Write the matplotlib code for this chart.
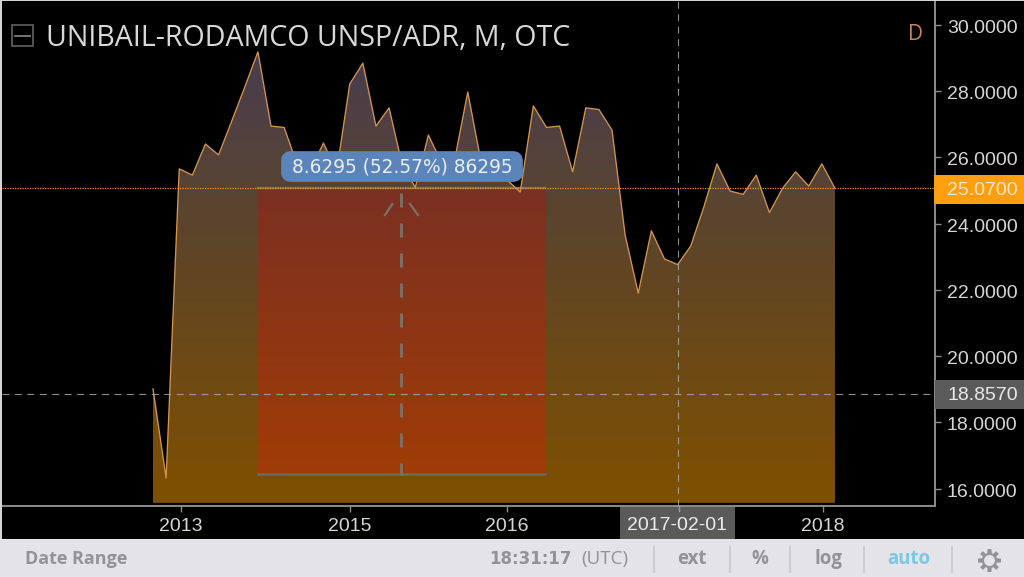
import numpy as np
import matplotlib
matplotlib.use("Agg")
import matplotlib.pyplot as plt
from matplotlib.colors import LinearSegmentedColormap
from matplotlib.patches import Polygon, Rectangle, FancyBboxPatch
from matplotlib.transforms import ScaledTranslation

prices = [19.01, 16.32, 25.65, 25.46, 26.40, 26.07, 27.09, 28.12, 29.18, 26.94,
          26.90, 25.77, 25.62, 26.43, 25.56, 28.21, 28.84, 26.94, 27.49, 25.77,
          25.09, 26.67, 25.83, 25.92, 27.97, 25.89, 25.56, 25.31, 24.95, 27.55,
          26.90, 26.94, 25.56, 27.49, 27.44, 26.82, 23.65, 21.90, 23.78, 22.93,
          22.76, 23.32, 24.50, 25.80, 24.98, 24.88, 25.46, 24.33, 25.06, 25.56,
          25.13, 25.80, 25.06]
x_tick_pos = [2.13, 15.02, 27.0, 51.1]
x_tick_labels = ["2013", "2015", "2016", "2018"]
y_ticks = [16, 18, 20, 22, 24, 26, 28, 30]
last_price = 25.07
cross_price = 18.857
cross_index = 40.05
cross_label = "2017-02-01"
measure_start, measure_end = 7.97, 29.9
measure_low = 16.44
measure_label = "8.6295 (52.57%) 86295"
title = "UNIBAIL-RODAMCO UNSP/ADR, M, OTC"

W, H = 1024, 577
fig = plt.figure(figsize=(W / 100, H / 100), dpi=100, facecolor="black")
L, R, T, B = 2, 934.5, 1, 505.5
ax = fig.add_axes([L / W, 1 - B / H, (R - L) / W, (B - T) / H], facecolor="black")

x = np.arange(len(prices))
px = 13.115
xlim = ((L - 153) / px, (R - 153) / px)
ylim = (15.49, 30.715)
base = 15.57


def gradient(stops, extent, clip, z):
    cmap = LinearSegmentedColormap.from_list("g", stops)
    img = np.linspace(0, 1, 256)[:, None]
    im = ax.imshow(img, cmap=cmap, extent=extent, aspect="auto", origin="upper",
                   interpolation="bilinear", zorder=z)
    im.set_clip_path(clip)
    return im


poly = Polygon(np.column_stack([np.r_[x[0], x, x[-1]], np.r_[base, prices, base]]),
               closed=True, fc="none", ec="none", transform=ax.transData)
ax.add_patch(poly)
gradient([(0, "#483c50"), (.306, "#584433"), (.505, "#624622"), (1, "#7f5000")],
         [x[0], x[-1], base, max(prices)], poly, 1)

rect = Rectangle((measure_start, measure_low), measure_end - measure_start,
                 last_price - measure_low, fc="none", ec="none", transform=ax.transData)
ax.add_patch(rect)
gradient([(0, "#7b3022"), (1, "#a03c06")],
         [measure_start, measure_end, measure_low, last_price], rect, 2)
ax.plot([measure_start, measure_end], [last_price] * 2, color="#7d6f66", lw=1.6, zorder=3)
ax.plot([measure_start, measure_end], [measure_low] * 2, color="#6e6a62", lw=1.8, zorder=3)

ax.plot(x, prices, color="#d2954e", lw=0.95, zorder=4)

ax.axhline(last_price, color="#e8963a", lw=0.9, ls=(0, (1, 1)), zorder=5)
ax.axhline(cross_price, color="#a8a8a8", lw=0.8, ls=(0, (6.2, 5)), alpha=.85, zorder=5)
ax.axvline(cross_index, color="#a8a8a8", lw=0.8, ls=(0, (6.2, 5)), alpha=.85, zorder=5)

ax.set_xlim(*xlim)
ax.set_ylim(*ylim)
ax.set_xticks(x_tick_pos, x_tick_labels)
ax.set_yticks(y_ticks, [f"{v:.4f}" for v in y_ticks])
ax.yaxis.tick_right()
for s in ("left", "top"):
    ax.spines[s].set_visible(False)
for s in ("right", "bottom"):
    ax.spines[s].set_color("#8c8c8c")
    ax.spines[s].set_linewidth(1.4)
ax.tick_params(axis="both", length=4, width=1, color="#8c8c8c", labelcolor="#d6d6d6",
               labelsize=14, pad=5)
ax.tick_params(axis="x", pad=4.8)
for lab in ax.get_xticklabels() + ax.get_yticklabels():
    lab.set_fontfamily("Liberation Sans")
shift = ScaledTranslation(0, -1.5 / 100, fig.dpi_scale_trans)
for lab in ax.get_yticklabels():
    lab.set_transform(lab.get_transform() + shift)

# overlay in pixel space for the chrome of the widget
ov = fig.add_axes([0, 0, 1, 1], facecolor="none", zorder=10)
ov.set_xlim(0, W)
ov.set_ylim(H, 0)
ov.axis("off")

# measuring arrow, dashed
arrow_x = 401
arrow_col = "#7c7268"
ov.plot([arrow_x, arrow_x], [193, 475], color=arrow_col, lw=2.0,
        ls=(0, (5.04, 5.76)), dash_capstyle="butt", zorder=3)
ov.plot([385, 392.3], [215, 204], color=arrow_col, lw=1.6, zorder=3)
ov.plot([418, 410], [215, 204], color=arrow_col, lw=1.6, zorder=3)

# measure label
ov.add_patch(FancyBboxPatch((286, 156), 232, 21, boxstyle="round,pad=0,rounding_size=5",
                            mutation_aspect=1, fc="#5b84bb", ec="#5b84bb", lw=7, zorder=5))
ov.text(402, 167, measure_label, color="#e8eef5", fontsize=13.4, ha="center", va="center",
        family="DejaVu Sans", zorder=6)

# title and icon
ov.add_patch(Rectangle((11.5, 24.5), 21.5, 21.5, fc="none", ec="#5a5a5a", lw=1.3))
ov.plot([15, 30], [35.5, 35.5], color="#8a8a8a", lw=1.2)
ov.text(46, 38.5, title, color="#d8d8d8", fontsize=20.6, family="Open Sans",
        ha="left", va="center")
ov.text(916, 34, "D", color="#cf7f63", fontsize=15, family="Open Sans",
        ha="center", va="center")

# price and date flags
ov.add_patch(Rectangle((934, 175), 90, 28.5, fc="#ff9e0f", ec="none", zorder=3))
ov.text(947, 190.5, f"{last_price:.4f}", color="#f6e8cf", fontsize=14,
        family="Liberation Sans", ha="left", va="center", zorder=4)
ov.add_patch(Rectangle((935, 380), 89, 29, fc="#5a5a5a", ec="none", zorder=3))
ov.text(947.5, 396, f"{cross_price:.4f}", color="#e8e8e8", fontsize=14,
        family="Liberation Sans", ha="left", va="center", zorder=4)
ov.add_patch(Rectangle((620, 507), 115, 32, fc="#5a5a5a", ec="none", zorder=3))
ov.text(677, 526, cross_label, color="#ececec", fontsize=14,
        family="Liberation Sans", ha="center", va="center", zorder=4)
ov.plot([679, 679], [506, 511], color="#9a9a9a", lw=1, zorder=4)

# frame
ov.add_patch(Rectangle((0, 0), W, 1.2, fc="#d4d4d4", ec="none", zorder=8))
ov.add_patch(Rectangle((0, 0), 1.8, 539, fc="#d4d4d4", ec="none", zorder=8))

# bottom toolbar
grey = "#929297"
ov.add_patch(Rectangle((0, 539), W, 38, fc="#e3e3e8", ec="none", zorder=6))
ov.text(25, 559, "Date Range", color=grey, fontsize=13, weight="bold",
        family="Open Sans", ha="left", va="center", zorder=7)
ov.text(489, 559, "18:31:17", color=grey, fontsize=12, weight="bold",
        family="DejaVu Sans", ha="left", va="center", zorder=7)
ov.text(581, 559, "(UTC)", color=grey, fontsize=13.5,
        family="Open Sans", ha="left", va="center", zorder=7)
for sx in (654, 730, 790, 864, 952):
    ov.plot([sx, sx], [547, 572], color="#c4c4c9", lw=1.1, zorder=7)
for cx, s, c in ((692, "ext", grey), (760, "%", grey), (828.5, "log", grey), (909, "auto", "#7cc6e6")):
    ov.text(cx, 559, s, color=c, fontsize=13.4, weight="bold",
            family="Open Sans", ha="center", va="center", zorder=7)
ov.plot([989], [560], marker=(8, 2, 0), ms=16, mec=grey, mew=2.6, zorder=7)
ov.plot([989], [560], marker="o", ms=9.5, mfc="#e3e3e8", mec=grey, mew=1.6, zorder=7)

fig.savefig("out.png", dpi=100, facecolor="black")
